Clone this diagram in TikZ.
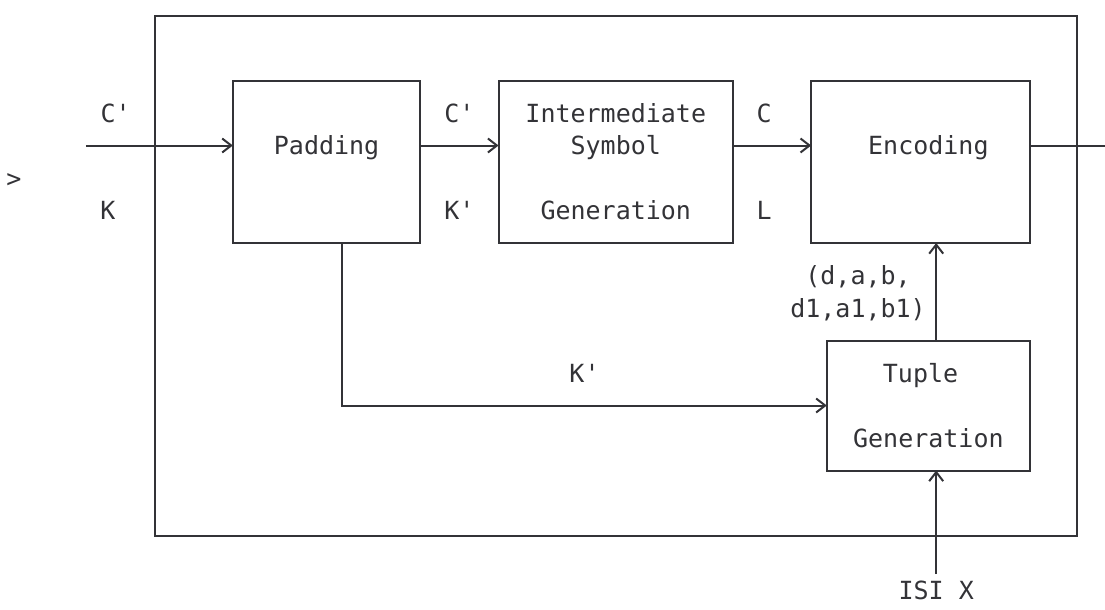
\documentclass[tikz,border=0pt]{standalone}
\usepackage{fontspec}
\setmonofont{DejaVu Sans Mono}
\usetikzlibrary{arrows.meta,fit}
\definecolor{ink}{RGB}{51,51,55}

\begin{document}
\begin{tikzpicture}[x=15.63pt,y=-32.5pt,
  every node/.style={text=ink,font=\ttfamily\fontsize{25}{32}\selectfont},
  box/.style={draw=ink,line width=2pt,inner sep=0pt,outer sep=0pt},
  txt/.style={anchor=base,yshift=-9pt,inner sep=0pt},
  wire/.style={draw=ink,line width=2pt},
  flow/.style={wire,-{Straight Barb[length=9pt,width=14pt,line width=2pt]}}]
%set diagram to the size of the reference
\useasboundingbox (-0.896,0.523) rectangle (69.80,19.262);

%Shape: Rectangle [outer frame]
\node[box,fit={(9,1) (68,17)}] (frame) {};
%Shape: Rectangle [Padding]
\node[box,fit={(14,3) (26,8)}] (pad) {};
%Shape: Rectangle [Intermediate Symbol Generation]
\node[box,fit={(31,3) (46,8)}] (isg) {};
%Shape: Rectangle [Encoding]
\node[box,fit={(51,3) (65,8)}] (enc) {};
%Shape: Rectangle [Tuple Generation]
\node[box,fit={(52,11) (65,15)}] (tup) {};

% Text Node
\node[txt] (tpad) at (20,5) {Padding};
% Text Node
\node[txt] (tint) at (38.5,4) {Intermediate};
\node[txt] (tsym) at (38.5,5) {Symbol};
\node[txt] (tgen) at (38.5,7) {Generation};
% Text Node
\node[txt] (tenc) at (58.5,5) {Encoding};
% Text Node
\node[txt] (ttup) at (58,12) {Tuple};
\node[txt] (ttgen) at (58.5,14) {Generation};

% Text Node
\node[txt] (lcin) at (6.5,4) {C'};
\node[txt] (lk) at (6,7) {K};
\node[txt] (lwrap) at (0,6) {>};
% Text Node
\node[txt] (lcp) at (28.5,4) {C'};
\node[txt] (lkp) at (28.5,7) {K'};
% Text Node
\node[txt] (lc) at (48,4) {C};
\node[txt] (ll) at (48,7) {L};
% Text Node
\node[txt] (ldab) at (54,9) {(d,a,b,};
\node[txt] (ldab1) at (54,10) {d1,a1,b1)};
% Text Node
\node[txt] (lkq) at (36.5,12) {K'};
% Text Node
\node[txt] (isi) at (59,18.7) {ISI X};

\coordinate (in) at (4.6,5);
\coordinate (out) at (70.4,5);
\coordinate (kbend) at (21,13);
\coordinate (dab) at (59,9);

%Straight Lines
\draw[flow] (in) -- (pad.west |- in);
\draw[flow] (pad.east |- in) -- (isg.west |- in);
\draw[flow] (isg.east |- in) -- (enc.west |- in);
\draw[wire] (enc.east |- in) -- (out);
%Straight Lines
\draw[flow] (pad.south -| kbend) -- (kbend) -- (tup.west |- kbend);
\draw[flow] (tup.north -| dab) -- (enc.south -| dab);
\draw[flow,shorten <=7pt] (isi.north) -- (tup.south -| isi);

\end{tikzpicture}
\end{document}
